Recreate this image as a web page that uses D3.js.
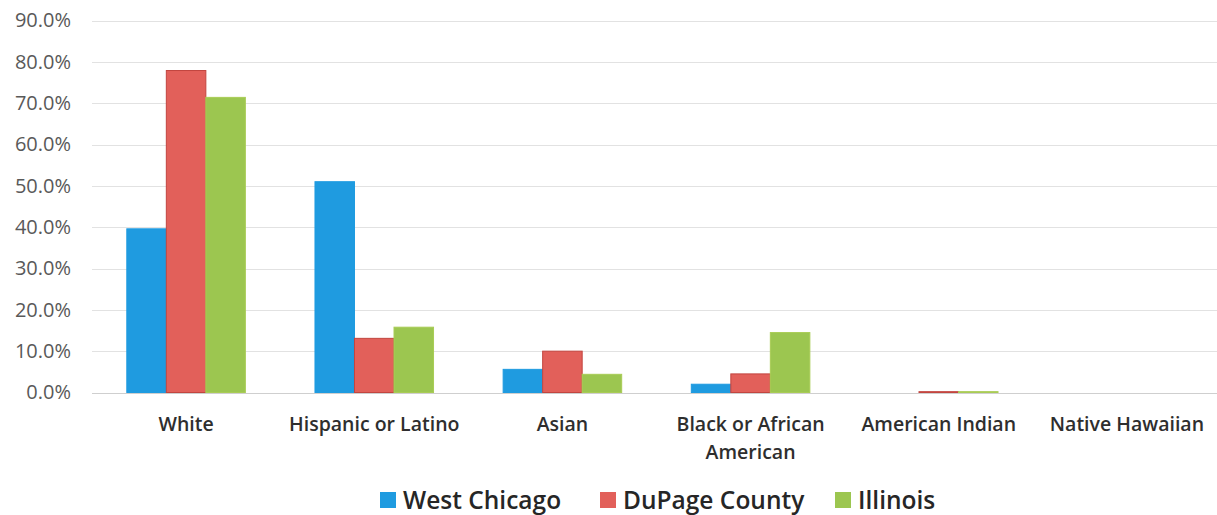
<!DOCTYPE html>
<html>
<head>
<meta charset="utf-8">
<script src="https://cdn.jsdelivr.net/npm/d3@7"></script>
<style>
  html, body { margin: 0; padding: 0; background: #ffffff; }
  svg { display: block; }
  text { font-family: "Open Sans", "Noto Sans", sans-serif; }
</style>
</head>
<body>
<svg id="chart" width="1217" height="515"></svg>
<script>
// Population share by race / ethnicity
const categories = ["White", "Hispanic or Latino", "Asian", "Black or African American", "American Indian", "Native Hawaiian"];
const seriesNames = ["West Chicago", "DuPage County", "Illinois"];
const westChicago = [39.6, 51.0, 5.6, 2.0, 0.0, 0.0];
const dupageCounty = [77.9, 13.1, 10.0, 4.5, 0.2, 0.0];
const illinois = [71.4, 15.8, 4.4, 14.5, 0.2, 0.0];
const yTicks = [0, 10, 20, 30, 40, 50, 60, 70, 80, 90];

const seriesValues = [westChicago, dupageCounty, illinois];
const fills = ["#1f9be0", "#e2605a", "#9cc650"];
const strokes = ["#1f9be0", "#c2453f", "#a9cc55"];

const svg = d3.select("#chart");

const x0 = d3.scaleBand().domain(categories).range([92, 1221]).padding(0);
const groupWidth = x0.step() * 0.63;
const x1 = d3.scaleBand().domain(seriesNames).range([0, groupWidth]).padding(0);
const y = d3.scaleLinear().domain([0, 90]).range([392.5, 20.5]);

// horizontal gridlines
svg.append("g")
  .selectAll("line")
  .data(yTicks)
  .join("line")
  .attr("x1", 92)
  .attr("x2", 1221)
  .attr("y1", d => Math.round(y(d)) + 0.5)
  .attr("y2", d => Math.round(y(d)) + 0.5)
  .attr("stroke", d => d === 0 ? "#cfcfcf" : "#e2e2e2")
  .attr("stroke-width", 1);

// y axis labels
const yAxis = d3.axisLeft(y).tickValues(yTicks).tickSize(0).tickPadding(0)
  .tickFormat(d => d3.format(".1f")(d) + "%");
svg.append("g")
  .attr("transform", "translate(71,0)")
  .call(yAxis)
  .call(g => g.select(".domain").remove())
  .call(g => g.selectAll("text")
    .attr("font-family", "'Open Sans', sans-serif")
    .attr("font-size", 20)
    .attr("fill", "#595959"));

// bars
const groups = svg.append("g")
  .selectAll("g")
  .data(categories)
  .join("g")
  .attr("transform", d => `translate(${x0(d) + (x0.bandwidth() - groupWidth) / 2},0)`);

groups.selectAll("rect")
  .data((c, i) => seriesNames.map((s, k) => ({ s, k, v: seriesValues[k][i] })))
  .join("rect")
  .attr("x", d => x1(d.s))
  .attr("width", x1.bandwidth())
  .attr("y", d => y(d.v))
  .attr("height", d => y(0) - y(d.v))
  .attr("fill", d => fills[d.k])
  .attr("stroke", d => d.v > 0 ? strokes[d.k] : "none")
  .attr("stroke-width", 1);

// category labels, wrapped to the band width
const labelG = svg.append("g");
categories.forEach(c => {
  const cx = x0(c) + x0.bandwidth() / 2;
  const t = labelG.append("text")
    .attr("x", cx)
    .attr("y", 431)
    .attr("text-anchor", "middle")
    .attr("font-size", 19.5)
    .attr("font-weight", 600)
    .attr("fill", "#2e2e2e");
  let line = [];
  let tspan = t.append("tspan").attr("x", cx).attr("dy", 0);
  c.split(" ").forEach(w => {
    line.push(w);
    tspan.text(line.join(" "));
    if (tspan.node().getComputedTextLength() > x0.step() - 8 && line.length > 1) {
      line.pop();
      tspan.text(line.join(" "));
      line = [w];
      tspan = t.append("tspan").attr("x", cx).attr("dy", 28).text(w);
    }
  });
});

// legend
const legendX = [380, 600, 835];
const legend = svg.append("g");
seriesNames.forEach((name, k) => {
  legend.append("rect")
    .attr("x", legendX[k]).attr("y", 492).attr("width", 16).attr("height", 16)
    .attr("fill", fills[k]);
  legend.append("text")
    .attr("x", legendX[k] + 23).attr("y", 509)
    .attr("font-size", 24.5)
    .attr("font-weight", 600)
    .attr("fill", "#262626")
    .text(name);
});
</script>
</body>
</html>
